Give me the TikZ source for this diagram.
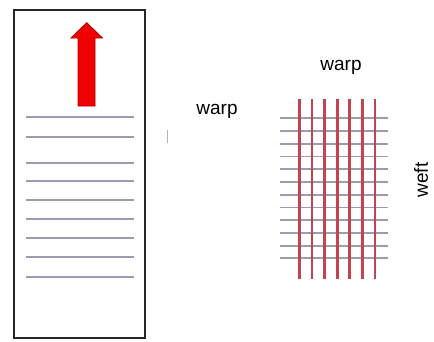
\documentclass[tikz,border=0pt]{standalone}
\usepackage{fontspec}
\setmainfont{Liberation Sans}
\definecolor{weftgray}{HTML}{9C9CB0}
\definecolor{warpred}{HTML}{C4434F}
\definecolor{arrowred}{HTML}{EE0000}
\definecolor{arrowedge}{HTML}{B00000}
\begin{document}
\begin{tikzpicture}[x=1pt,y=-1pt,
  lbl/.style={font=\fontsize{19}{22}\selectfont, inner sep=0pt},
  weftline/.style={draw=weftgray, line width=1.8pt},
  warpline/.style={draw=warpred, line width=2.8pt},
  frame/.style={draw=black!85, line width=2.8pt}]
\useasboundingbox (0,0) rectangle (434,341);
% left panel
\node[frame, minimum width=131pt, minimum height=328pt, inner sep=0pt] (panel) at (79.5,174) {};
\foreach \y in {117.3,136.7,162.7,181,200.3,219.3,238,257.3,276.7}
  \draw[weftline] (26,\y) -- (134,\y);
\draw[fill=arrowred, draw=arrowedge, line width=0.8pt]
  (78,106) -- (78,38) -- (71,38) -- (86.7,22.7) -- (102.5,38) -- (95,38) -- (95,106) -- cycle;
% faint tick
\draw[black!30, line width=0.8pt] (167,130) -- (167,143);
\node[lbl] (warpleft) at (217,111) {warp};
% right grid
\foreach \i in {0,...,11}
  \draw[weftline] (280,118.3+12.73*\i) -- (388,118.3+12.73*\i);
\foreach \i in {0,...,6}
  \draw[warpline] (299.3+12.6*\i,99.3) -- (299.3+12.6*\i,279.3);
\node[lbl] (warptop) at (341,67) {warp};
\node[lbl, rotate=90] (weft) at (421,180) {weft};
\end{tikzpicture}
\end{document}
